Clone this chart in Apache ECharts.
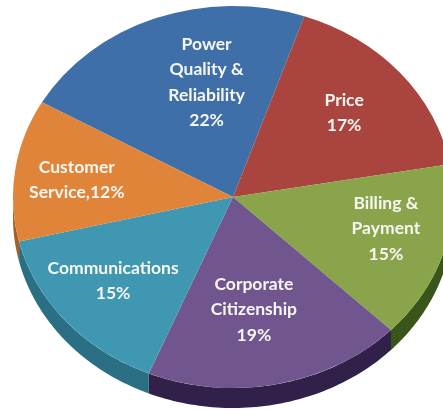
<!DOCTYPE html>
<html>
<head>
<meta charset="utf-8">
<style>html,body{margin:0;padding:0;background:#fff;overflow:hidden}#c{width:443px;height:410px;filter:blur(0.45px)}</style>
<script src="https://cdn.jsdelivr.net/npm/echarts@6/dist/echarts.min.js"></script>
</head>
<body>
<div id="c"></div>
<script>
const categories = ['Power\nQuality &\nReliability', 'Price', 'Billing &\nPayment', 'Corporate\nCitizenship', 'Communications', 'Customer\nService,'];
const shares = [22, 17, 15, 19, 15, 12];
const faceColors = ['#3f6fa9', '#a9443f', '#8aa44b', '#71558f', '#3f97b2', '#e0843a'];
const wallColors = ['#2c4d76', '#762f2c', '#3a5519', '#31214a', '#2b6f84', '#a65e24'];
// label centres as fractions of the ellipse radii (layout only)
const labelFx = [-0.12, 0.505, 0.695, 0.095, -0.545, -0.71];
const labelFy = [-0.6, -0.44, 0.165, 0.59, 0.44, -0.09];

const CX = 233, CY = 197, RX = 220, RY = 191, DEPTH = 20, START_DEG = 299.7;
const total = shares.reduce((a, b) => a + b, 0);
const rows = [];
shares.reduce((acc, v, i) => { rows.push([v, acc, i]); return acc + v; }, 0);

function renderItem(params, api) {
  const v = api.value(0), before = api.value(1), i = api.value(2);
  const a0 = START_DEG + before / total * 360;
  const a1 = a0 + v / total * 360;
  const children = [];
  // side wall: the part of the rim that lies in the lower half of the ellipse
  const spans = [[90, 270], [450, 630]];
  spans.forEach(([lo, hi]) => {
    const s = Math.max(a0, lo), e = Math.min(a1, hi);
    if (e <= s) return;
    const top = [], bottom = [];
    for (let k = 0; k <= 60; k++) {
      const t = (s + (e - s) * k / 60) * Math.PI / 180;
      const x = CX + RX * Math.sin(t), y = CY - RY * Math.cos(t);
      top.push([x, y]);
      bottom.unshift([x, y + DEPTH]);
    }
    children.push({ type: 'polygon', shape: { points: top.concat(bottom) }, style: { fill: wallColors[i] } });
  });
  children.push({
    type: 'sector', x: CX, y: CY, scaleX: RX / RY,
    shape: { cx: 0, cy: 0, r0: 0, r: RY, startAngle: (a0 - 90) * Math.PI / 180, endAngle: (a1 - 90) * Math.PI / 180, clockwise: true },
    style: { fill: faceColors[i] }
  });
  const name = categories[i];
  children.push({
    type: 'text', z2: 10,
    x: CX + labelFx[i] * RX, y: CY + labelFy[i] * RY,
    style: {
      text: name + (name.endsWith(',') ? '' : '\n') + v + '%',
      fill: '#f7f7f2', font: 'bold 17.5px Lato, "Open Sans", sans-serif',
      align: 'center', verticalAlign: 'middle', lineHeight: 25.5
    }
  });
  return { type: 'group', children };
}

const chart = echarts.init(document.getElementById('c'), null, { renderer: 'canvas' });
chart.setOption({
  animation: false,
  backgroundColor: '#fff',
  series: [{ type: 'custom', coordinateSystem: 'none', data: rows, renderItem, clip: false }]
});
</script>
</body>
</html>
